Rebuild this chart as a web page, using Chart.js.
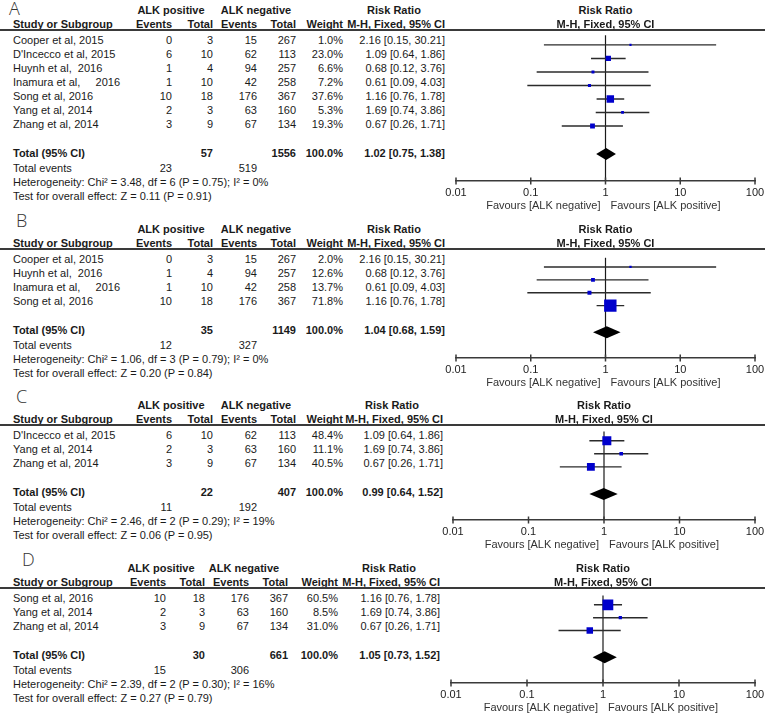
<!DOCTYPE html>
<html>
<head>
<meta charset="utf-8">
<title>ALK forest plots</title>
<script src="https://cdn.jsdelivr.net/npm/chart.js@4.4.1/dist/chart.umd.min.js"></script>
<style>
  html, body { margin: 0; padding: 0; background: #fff; overflow: hidden; }
  #page {
    position: relative; width: 765px; height: 715px; overflow: hidden;
    font-family: "Liberation Sans", Arial, sans-serif; font-size: 11px; color: #1a1a1a;
  }
  .t { position: absolute; line-height: 13px; height: 13px; white-space: pre; }
  .b { font-weight: bold; }
  .rule { position: absolute; left: 0; width: 765px; height: 0; border-top: 2px solid #3a3a3a; }
  .letter {
    position: absolute; font-family: "Open Sans", "DejaVu Sans", sans-serif;
    font-weight: 300; font-size: 18px; line-height: 20px; color: #333;
  }
  canvas { position: absolute; }
</style>
</head>
<body>
<div id="page"></div>
<script>
// ---- study data ----
const STUDIES = ['Cooper et al, 2015', "D'Incecco et al, 2015", 'Huynh et al,  2016',
                 'Inamura et al,     2016', 'Song et al, 2016', 'Yang et al, 2014', 'Zhang et al, 2014'];
const POS_EVENTS = [0, 6, 1, 1, 10, 2, 3];
const POS_TOTAL  = [3, 10, 4, 10, 18, 3, 9];
const NEG_EVENTS = [15, 62, 94, 42, 176, 63, 67];
const NEG_TOTAL  = [267, 113, 257, 258, 367, 160, 134];
const RR    = [2.16, 1.09, 0.68, 0.61, 1.16, 1.69, 0.67];
const RR_LO = [0.15, 0.64, 0.12, 0.09, 0.76, 0.74, 0.26];
const RR_HI = [30.21, 1.86, 3.76, 4.03, 1.78, 3.86, 1.71];

// ---- per panel ----
const PANEL_NAMES   = ['A', 'B', 'C', 'D'];
const PANEL_STUDIES = [[0, 1, 2, 3, 4, 5, 6], [0, 2, 3, 4], [1, 5, 6], [4, 5, 6]];
const PANEL_WEIGHTS = [[1.0, 23.0, 6.6, 7.2, 37.6, 5.3, 19.3], [2.0, 12.6, 13.7, 71.8],
                       [48.4, 11.1, 40.5], [60.5, 8.5, 31.0]];
const POOLED_RR = [1.02, 1.04, 0.99, 1.05];
const POOLED_LO = [0.75, 0.68, 0.64, 0.73];
const POOLED_HI = [1.38, 1.59, 1.52, 1.52];
const SUM_POS_TOTAL  = [57, 35, 22, 30];
const SUM_NEG_TOTAL  = [1556, 1149, 407, 661];
const SUM_POS_EVENTS = [23, 12, 11, 15];
const SUM_NEG_EVENTS = [519, 327, 192, 306];
const HETEROGENEITY = ['Chi\u00b2 = 3.48, df = 6 (P = 0.75); I\u00b2 = 0%',
                       'Chi\u00b2 = 1.06, df = 3 (P = 0.79); I\u00b2 = 0%',
                       'Chi\u00b2 = 2.46, df = 2 (P = 0.29); I\u00b2 = 19%',
                       'Chi\u00b2 = 2.39, df = 2 (P = 0.30); I\u00b2 = 16%'];
const OVERALL_EFFECT = ['Z = 0.11 (P = 0.91)', 'Z = 0.20 (P = 0.84)', 'Z = 0.06 (P = 0.95)', 'Z = 0.27 (P = 0.79)'];
const X_TICKS = [0.01, 0.1, 1, 10, 100];

// ---- layout (pixels) ----
const ROW_H = 14;
const COLS_ABC = [172, 213, 257, 296, 343, 445];
const LAYOUT = [
  { r0: 40,  letter: [9, 8],    pos: 171, neg: 256, cols: COLS_ABC, plot: [456, 755] },
  { r0: 259, letter: [16, 220], pos: 171, neg: 256, cols: COLS_ABC, plot: [456, 755] },
  { r0: 435, letter: [16, 396], pos: 171, neg: 256, cols: [172, 213, 257, 296, 343, 443], plot: [453, 755] },
  { r0: 598, letter: [22, 559], pos: 161, neg: 244, cols: [166, 205, 249, 288, 338, 440], plot: [451, 755] }
];
const FONT = { family: '"Liberation Sans", Arial, sans-serif', size: 11 };

const page = document.getElementById('page');

function put(text, x, y, align = 'left', cls = '') {
    const el = document.createElement('div');
    el.className = 't ' + cls;
    el.textContent = text;
    const W = 400;
    if (align === 'right') {
        el.style.left = (x - W) + 'px'; el.style.width = W + 'px'; el.style.textAlign = 'right';
    } else if (align === 'center') {
        el.style.left = (x - W / 2) + 'px'; el.style.width = W + 'px'; el.style.textAlign = 'center';
    } else {
        el.style.left = x + 'px';
    }
    el.style.top = (y - 6.5) + 'px';
    page.appendChild(el);
    return el;
}

const ciText = (est, lo, hi) => `${est.toFixed(2)} [${lo.toFixed(2)}, ${hi.toFixed(2)}]`;

// vertical line at RR = 1, axis tick marks, pooled diamond
const forestPlugin = {
    id: 'forest',
    beforeDatasetsDraw(chart) {
        const { ctx, chartArea, scales: { x } } = chart;
        const x1 = x.getPixelForValue(1);
        ctx.save();
        ctx.strokeStyle = '#1a1a1a';
        ctx.lineWidth = 1.2;
        ctx.beginPath();
        ctx.moveTo(x1, chartArea.top);
        ctx.lineTo(x1, chartArea.bottom);
        ctx.stroke();
        ctx.strokeStyle = '#3a3a3a';
        ctx.lineWidth = 1.5;
        X_TICKS.forEach(v => {
            const px = x.getPixelForValue(v);
            ctx.beginPath();
            ctx.moveTo(px, chartArea.bottom - 3.5);
            ctx.lineTo(px, chartArea.bottom + 3.5);
            ctx.stroke();
        });
        ctx.restore();
    },
    afterDatasetsDraw(chart, args, opts) {
        const { ctx, scales: { x, y } } = chart;
        const [est, lo, hi] = opts.pooled;
        const cy = y.getPixelForValue(opts.row);
        ctx.save();
        ctx.fillStyle = '#000';
        ctx.beginPath();
        ctx.moveTo(x.getPixelForValue(lo), cy);
        ctx.lineTo(x.getPixelForValue(est), cy - 6);
        ctx.lineTo(x.getPixelForValue(hi), cy);
        ctx.lineTo(x.getPixelForValue(est), cy + 6);
        ctx.closePath();
        ctx.fill();
        ctx.restore();
    }
};

function drawPanel(p) {
    const L = LAYOUT[p];
    const idx = PANEL_STUDIES[p];
    const weights = PANEL_WEIGHTS[p];
    const n = idx.length;
    const [cEv1, cTot1, cEv2, cTot2, cW, cCI] = L.cols;
    const rowY = i => L.r0 + i * ROW_H;
    const lineY = L.r0 - 10;
    const totalY = rowY(n - 1) + 29;
    const axisY = totalY + 28;

    // panel letter
    const letter = document.createElement('div');
    letter.className = 'letter';
    letter.textContent = PANEL_NAMES[p];
    letter.style.left = L.letter[0] + 'px';
    letter.style.top = (L.letter[1] - 10) + 'px';
    page.appendChild(letter);

    // table header
    const h1 = L.r0 - 30, h2 = L.r0 - 16;
    put('ALK positive', L.pos, h1, 'center', 'b');
    put('ALK negative', L.neg, h1, 'center', 'b');
    put('Risk Ratio', cCI - 51, h1, 'center', 'b');
    put('Study or Subgroup', 13, h2, 'left', 'b');
    put('Events', cEv1, h2, 'right', 'b');
    put('Total', cTot1, h2, 'right', 'b');
    put('Events', cEv2, h2, 'right', 'b');
    put('Total', cTot2, h2, 'right', 'b');
    put('Weight', cW, h2, 'right', 'b');
    put('M-H, Fixed, 95% CI', cCI, h2, 'right', 'b');

    const rule = document.createElement('div');
    rule.className = 'rule';
    rule.style.top = (lineY - 1) + 'px';
    page.appendChild(rule);

    // study rows
    idx.forEach((s, i) => {
        const y = rowY(i);
        put(STUDIES[s], 13, y);
        put(String(POS_EVENTS[s]), cEv1, y, 'right');
        put(String(POS_TOTAL[s]), cTot1, y, 'right');
        put(String(NEG_EVENTS[s]), cEv2, y, 'right');
        put(String(NEG_TOTAL[s]), cTot2, y, 'right');
        put(weights[i].toFixed(1) + '%', cW, y, 'right');
        put(ciText(RR[s], RR_LO[s], RR_HI[s]), cCI, y, 'right');
    });

    // totals
    put('Total (95% CI)', 13, totalY, 'left', 'b');
    put(String(SUM_POS_TOTAL[p]), cTot1, totalY, 'right', 'b');
    put(String(SUM_NEG_TOTAL[p]), cTot2, totalY, 'right', 'b');
    put('100.0%', cW, totalY, 'right', 'b');
    put(ciText(POOLED_RR[p], POOLED_LO[p], POOLED_HI[p]), cCI, totalY, 'right', 'b');
    put('Total events', 13, totalY + 15);
    put(String(SUM_POS_EVENTS[p]), cEv1, totalY + 15, 'right');
    put(String(SUM_NEG_EVENTS[p]), cEv2, totalY + 15, 'right');
    put('Heterogeneity: ' + HETEROGENEITY[p], 13, totalY + 29);
    put('Test for overall effect: ' + OVERALL_EFFECT[p], 13, totalY + 43);

    // forest plot
    const left = L.plot[0] - 26;
    const cw = L.plot[1] + 20 - left;
    const ch = axisY - lineY + 22;
    const canvas = document.createElement('canvas');
    canvas.width = cw; canvas.height = ch;
    canvas.style.left = left + 'px'; canvas.style.top = lineY + 'px';
    canvas.style.width = cw + 'px'; canvas.style.height = ch + 'px';
    page.appendChild(canvas);

    const squares = {
        data: idx.map((s, i) => ({ x: RR[s], y: i })),
        pointStyle: 'rect',
        pointRadius: weights.map(w => (2 + 0.145 * w) / Math.SQRT2),
        pointBackgroundColor: '#0000cc',
        backgroundColor: '#0000cc',
        pointBorderWidth: 0,
        borderWidth: 0,
        order: 0
    };
    const whiskers = idx.map((s, i) => ({
        data: [{ x: RR_LO[s], y: i }, { x: RR_HI[s], y: i }],
        showLine: true,
        borderColor: '#2b2b2b',
        borderWidth: 1.4,
        pointRadius: 0,
        order: 1
    }));

    const chart = new Chart(canvas, {
        type: 'scatter',
        data: { datasets: [squares, ...whiskers] },
        options: {
            responsive: false,
            animation: false,
            events: [],
            devicePixelRatio: 1,
            layout: { padding: { left: 26, right: 20, top: 0, bottom: 0 } },
            plugins: {
                legend: { display: false },
                tooltip: { enabled: false },
                forest: { pooled: [POOLED_RR[p], POOLED_LO[p], POOLED_HI[p]], row: (totalY - L.r0) / ROW_H }
            },
            scales: {
                x: {
                    type: 'logarithmic', min: 0.01, max: 100,
                    afterBuildTicks: s => { s.ticks = X_TICKS.map(v => ({ value: v })); },
                    afterFit: s => { s.height = 22; },
                    grid: { display: false, drawTicks: false },
                    border: { display: true, color: '#3a3a3a', width: 1.5 },
                    ticks: { padding: 5, color: '#222', font: FONT, maxRotation: 0, autoSkip: false,
                             callback: v => String(v) }
                },
                y: {
                    type: 'linear', display: false, reverse: true,
                    min: (lineY - L.r0) / ROW_H, max: (axisY - L.r0) / ROW_H
                }
            }
        },
        plugins: [forestPlugin]
    });

    // plot header and favours labels around RR = 1
    const x1 = left + chart.scales.x.getPixelForValue(1);
    put('Risk Ratio', x1, h1, 'center', 'b');
    put('M-H, Fixed, 95% CI', x1, h2, 'center', 'b');
    put('Favours [ALK negative]', x1 - 5, axisY + 24, 'right').style.color = '#333';
    put('Favours [ALK positive]', x1 + 5, axisY + 24, 'left').style.color = '#333';
}

PANEL_NAMES.forEach((_, p) => drawPanel(p));
</script>
</body>
</html>
